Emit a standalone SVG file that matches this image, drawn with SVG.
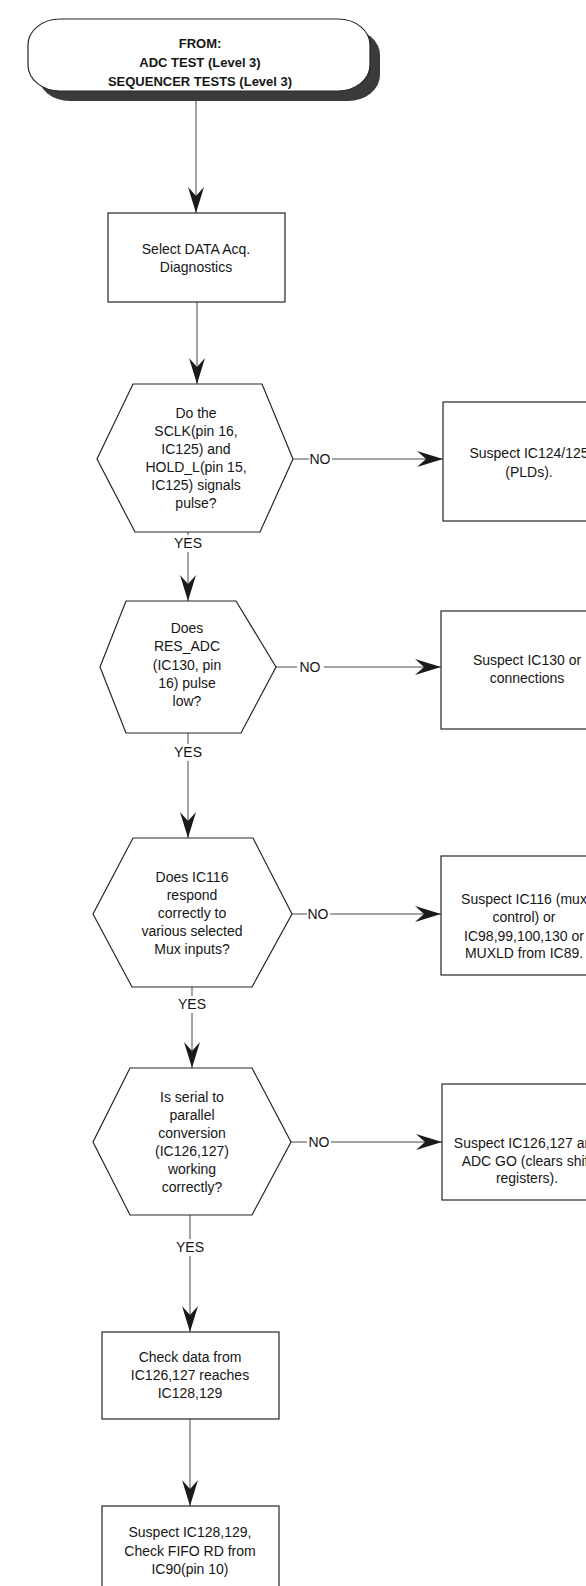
<svg xmlns="http://www.w3.org/2000/svg" width="586" height="1586" viewBox="0 0 586 1586">
  <style>
    .shape { fill: #fff; stroke: #262626; stroke-width: 1.2; }
    .shadow { fill: #3a3a3a; stroke: none; }
    .txt { font-family: "Liberation Sans", Arial, Helvetica, sans-serif; font-size: 14px; fill: #161616; text-anchor: middle; }
    .bold { font-weight: bold; font-size: 13px; }
    .wire { fill: none; stroke: #4a4a4a; stroke-width: 1; }
    .lbl { font-family: "Liberation Sans", Arial, Helvetica, sans-serif; font-size: 14px; fill: #161616; text-anchor: middle; }
  </style>
  <defs>
    <marker id="arrow" markerUnits="userSpaceOnUse" markerWidth="28" markerHeight="18" viewBox="-27 -9 28 18" refX="0" refY="0" orient="auto">
      <path d="M0,0 L-26,-8 L-17,0 L-26,8 Z" fill="#1a1a1a"/>
    </marker>
  </defs>
  <rect width="586" height="1586" fill="#fff"/>

  <!-- connectors -->
  <g id="connectors">
    <line class="wire" x1="196" y1="101" x2="196" y2="213" marker-end="url(#arrow)"/>
    <line class="wire" x1="197" y1="302" x2="197" y2="384" marker-end="url(#arrow)"/>

    <!-- decision 1 -->
    <line class="wire" x1="293" y1="459" x2="309" y2="459"/>
    <text class="lbl" x="320" y="464">NO</text>
    <line class="wire" x1="332" y1="459" x2="443" y2="459" marker-end="url(#arrow)"/>
    <line class="wire" x1="188" y1="532" x2="188" y2="535"/>
    <text class="lbl" x="188" y="548">YES</text>
    <line class="wire" x1="188" y1="552" x2="188" y2="601" marker-end="url(#arrow)"/>

    <!-- decision 2 -->
    <line class="wire" x1="276" y1="667" x2="297" y2="667"/>
    <text class="lbl" x="310" y="672">NO</text>
    <line class="wire" x1="324" y1="667" x2="441" y2="667" marker-end="url(#arrow)"/>
    <line class="wire" x1="188" y1="733" x2="188" y2="744"/>
    <text class="lbl" x="188" y="757">YES</text>
    <line class="wire" x1="188" y1="761" x2="188" y2="838" marker-end="url(#arrow)"/>

    <!-- decision 3 -->
    <line class="wire" x1="292" y1="914" x2="307" y2="914"/>
    <text class="lbl" x="318" y="919">NO</text>
    <line class="wire" x1="330" y1="914" x2="441" y2="914" marker-end="url(#arrow)"/>
    <line class="wire" x1="192" y1="987" x2="192" y2="996"/>
    <text class="lbl" x="192" y="1009">YES</text>
    <line class="wire" x1="192" y1="1013" x2="192" y2="1068" marker-end="url(#arrow)"/>

    <!-- decision 4 -->
    <line class="wire" x1="291" y1="1142" x2="307" y2="1142"/>
    <text class="lbl" x="319" y="1147">NO</text>
    <line class="wire" x1="331" y1="1142" x2="442" y2="1142" marker-end="url(#arrow)"/>
    <line class="wire" x1="190" y1="1215" x2="190" y2="1239"/>
    <text class="lbl" x="190" y="1252">YES</text>
    <line class="wire" x1="190" y1="1256" x2="190" y2="1332" marker-end="url(#arrow)"/>

    <line class="wire" x1="190" y1="1419" x2="190" y2="1506" marker-end="url(#arrow)"/>
  </g>

  <!-- entry terminal -->
  <g id="start">
    <rect class="shadow" x="38" y="29" width="342" height="72" rx="32" ry="26"/>
    <rect class="shape" x="28" y="19" width="342" height="72" rx="32" ry="26"/>
    <text class="txt bold" x="200" y="48">FROM:</text>
    <text class="txt bold" x="200" y="67">ADC TEST (Level 3)</text>
    <text class="txt bold" x="200" y="86">SEQUENCER TESTS (Level 3)</text>
  </g>

  <g id="select-diag">
    <rect class="shape" x="108" y="213" width="177" height="89"/>
    <text class="txt" x="196" y="254">Select DATA Acq.</text>
    <text class="txt" x="196" y="272">Diagnostics</text>
  </g>

  <g id="q-sclk">
    <polygon class="shape" points="133,384 262,384 293,459 260,532 135,532 97,459"/>
    <text class="txt" x="196" y="418">Do the</text>
    <text class="txt" x="196" y="436">SCLK(pin 16,</text>
    <text class="txt" x="196" y="454">IC125) and</text>
    <text class="txt" x="196" y="472">HOLD_L(pin 15,</text>
    <text class="txt" x="196" y="490">IC125) signals</text>
    <text class="txt" x="196" y="508">pulse?</text>
  </g>

  <g id="suspect-pld">
    <rect class="shape" x="443" y="402" width="177" height="119"/>
    <text class="txt" x="529" y="458">Suspect IC124/125</text>
    <text class="txt" x="529" y="477">(PLDs).</text>
  </g>

  <g id="q-res-adc">
    <polygon class="shape" points="126,601 236,601 276,667 241,733 126,733 100,667"/>
    <text class="txt" x="187" y="633">Does</text>
    <text class="txt" x="187" y="651">RES_ADC</text>
    <text class="txt" x="187" y="670">(IC130, pin</text>
    <text class="txt" x="187" y="688">16) pulse</text>
    <text class="txt" x="187" y="706">low?</text>
  </g>

  <g id="suspect-ic130">
    <rect class="shape" x="441" y="611" width="177" height="118"/>
    <text class="txt" x="527" y="665">Suspect IC130 or</text>
    <text class="txt" x="527" y="683">connections</text>
  </g>

  <g id="q-mux">
    <polygon class="shape" points="133,838 253,838 292,914 252,987 132,987 93,914"/>
    <text class="txt" x="192" y="882">Does IC116</text>
    <text class="txt" x="192" y="900">respond</text>
    <text class="txt" x="192" y="918">correctly to</text>
    <text class="txt" x="192" y="936">various selected</text>
    <text class="txt" x="192" y="954">Mux inputs?</text>
  </g>

  <g id="suspect-mux">
    <rect class="shape" x="441" y="856" width="177" height="119"/>
    <text class="txt" x="524" y="904">Suspect IC116 (mux</text>
    <text class="txt" x="524" y="922">control) or</text>
    <text class="txt" x="524" y="941">IC98,99,100,130 or</text>
    <text class="txt" x="524" y="958">MUXLD from IC89.</text>
  </g>

  <g id="q-serial">
    <polygon class="shape" points="130,1068 252,1068 291,1142 252,1215 130,1215 93,1142"/>
    <text class="txt" x="192" y="1102">Is serial to</text>
    <text class="txt" x="192" y="1120">parallel</text>
    <text class="txt" x="192" y="1138">conversion</text>
    <text class="txt" x="192" y="1156">(IC126,127)</text>
    <text class="txt" x="192" y="1174">working</text>
    <text class="txt" x="192" y="1192">correctly?</text>
  </g>

  <g id="suspect-shift">
    <rect class="shape" x="442" y="1084" width="177" height="116"/>
    <text class="txt" x="527" y="1148">Suspect IC126,127 and</text>
    <text class="txt" x="527" y="1166">ADC GO (clears shift</text>
    <text class="txt" x="527" y="1183">registers).</text>
  </g>

  <g id="check-data">
    <rect class="shape" x="102" y="1332" width="177" height="87"/>
    <text class="txt" x="190" y="1362">Check data from</text>
    <text class="txt" x="190" y="1380">IC126,127 reaches</text>
    <text class="txt" x="190" y="1398">IC128,129</text>
  </g>

  <g id="suspect-fifo">
    <rect class="shape" x="102" y="1506" width="177" height="100"/>
    <text class="txt" x="190" y="1537">Suspect IC128,129,</text>
    <text class="txt" x="190" y="1556">Check FIFO RD from</text>
    <text class="txt" x="190" y="1574">IC90(pin 10)</text>
  </g>
</svg>
